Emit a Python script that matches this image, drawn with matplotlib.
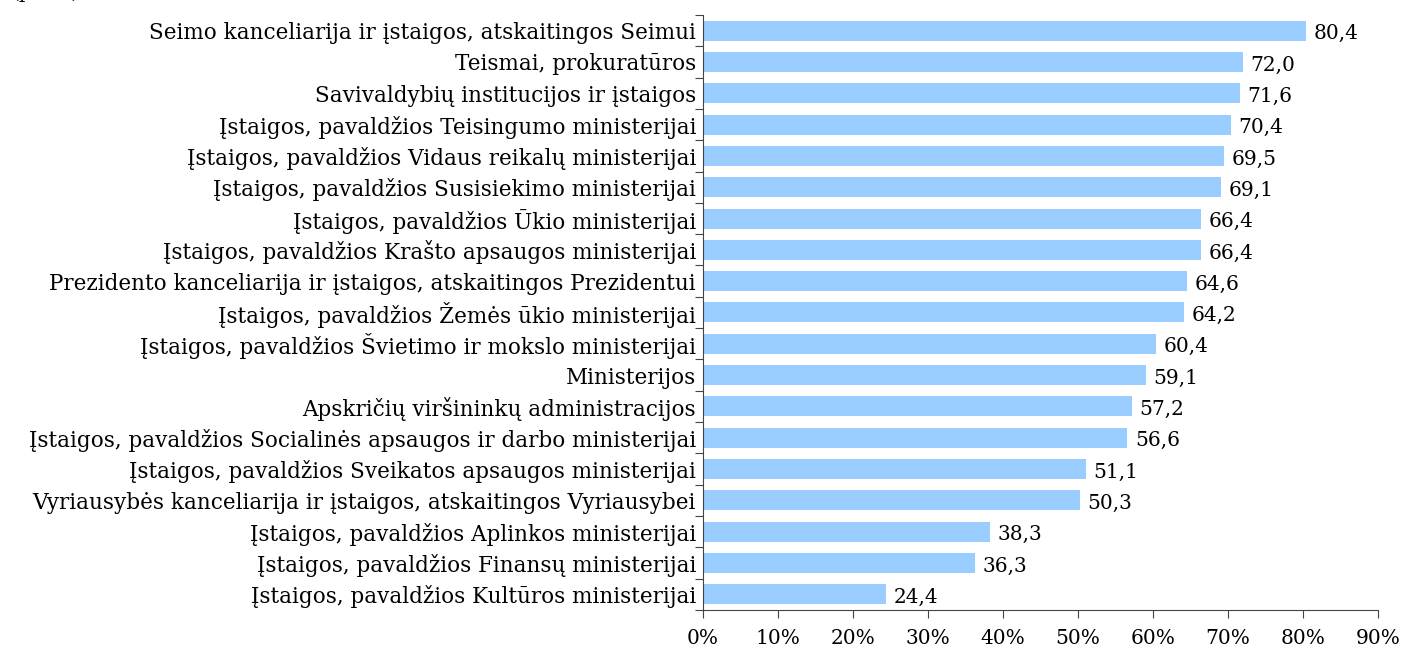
import matplotlib
matplotlib.use("Agg")
import matplotlib.pyplot as plt
import numpy as np

categories = [
    "Seimo kanceliarija ir įstaigos, atskaitingos Seimui",
    "Teismai, prokuratūros",
    "Savivaldybių institucijos ir įstaigos",
    "Įstaigos, pavaldžios Teisingumo ministerijai",
    "Įstaigos, pavaldžios Vidaus reikalų ministerijai",
    "Įstaigos, pavaldžios Susisiekimo ministerijai",
    "Įstaigos, pavaldžios Ūkio ministerijai",
    "Įstaigos, pavaldžios Krašto apsaugos ministerijai",
    "Prezidento kanceliarija ir įstaigos, atskaitingos Prezidentui",
    "Įstaigos, pavaldžios Žemės ūkio ministerijai",
    "Įstaigos, pavaldžios Švietimo ir mokslo ministerijai",
    "Ministerijos",
    "Apskričių viršininkų administracijos",
    "Įstaigos, pavaldžios Socialinės apsaugos ir darbo ministerijai",
    "Įstaigos, pavaldžios Sveikatos apsaugos ministerijai",
    "Vyriausybės kanceliarija ir įstaigos, atskaitingos Vyriausybei",
    "Įstaigos, pavaldžios Aplinkos ministerijai",
    "Įstaigos, pavaldžios Finansų ministerijai",
    "Įstaigos, pavaldžios Kultūros ministerijai",
]
values = [80.4, 72.0, 71.6, 70.4, 69.5, 69.1, 66.4, 66.4, 64.6, 64.2,
          60.4, 59.1, 57.2, 56.6, 51.1, 50.3, 38.3, 36.3, 24.4]
xticks = [0, 10, 20, 30, 40, 50, 60, 70, 80, 90]

plt.rcParams['font.family'] = ['DejaVu Serif', 'Liberation Serif']
fs = 14.5
fs_lab = 15.5

fig = plt.figure(figsize=(14.06, 6.53), dpi=100)
ax = fig.add_axes([0.5, 0.066, 0.48, 0.911])

n = len(categories)
y = np.arange(n)[::-1]
ax.barh(y, values, height=0.64, color='#99CCFF', edgecolor='none')
for yi, v in zip(y, values):
    ax.text(v + 1.0, yi - 0.1, f"{v:.1f}".replace('.', ','), va='center',
            ha='left', fontsize=fs)

ax.set_ylim(-0.5, n - 0.5)
ax.set_xlim(0, 90)
ax.set_xticks(xticks)
ax.set_xticklabels([f"{t}%" for t in xticks], fontsize=fs)
ax.set_yticks(np.arange(n + 1) - 0.5, minor=False)
ax.set_yticklabels([])
ax.set_yticks(y, minor=True)
ax.set_yticklabels(categories, minor=True, fontsize=fs_lab)
ax.tick_params(axis='y', which='minor', length=0, pad=5)
ax.tick_params(axis='y', which='major', length=6, direction='out', color='#444444')
ax.tick_params(axis='x', length=6, direction='out', pad=8, color='#444444')

for s in ['top', 'right']:
    ax.spines[s].set_visible(False)
for s in ['left', 'bottom']:
    ax.spines[s].set_color('#444444')

fig.text(0.008, 1.012, "(proc.)", fontsize=fs, va='center', ha='left')

fig.savefig("out.png", dpi=100)
